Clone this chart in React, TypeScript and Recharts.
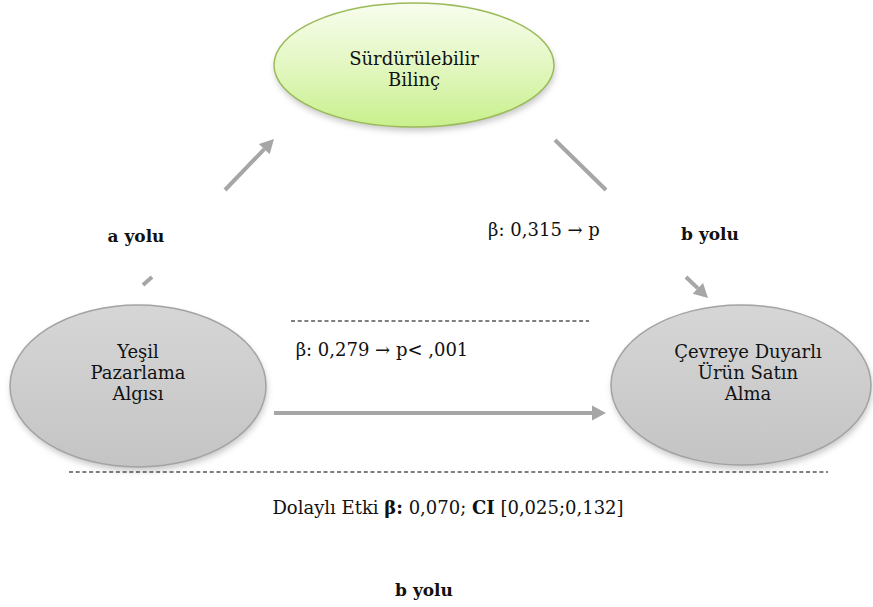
import React from 'react';
import { ComposedChart, XAxis, YAxis, Scatter, ReferenceLine } from 'recharts';

// ---- diagram data (diagram coordinate space: 0..873 x 0..607, y downward) ----
const nodeIds = ['sb', 'ypa', 'cdusa'];
const nodeLines = [
  ['Sürdürülebilir', 'Bilinç'],
  ['Yeşil', 'Pazarlama', 'Algısı'],
  ['Çevreye Duyarlı', 'Ürün Satın', 'Alma'],
];
const nodeX = [414, 138, 741];
const nodeY = [65, 386, 385];
const nodeRx = [140, 128, 130];
const nodeRy = [62, 81, 80];
const nodeTextX = [414, 138, 748];
const nodeTextY = [58, 351, 351];
const nodeKind = ['green', 'gray', 'gray'];

const arrowFrom = [[225, 190], [143, 285], [555, 140], [686, 277], [274, 413]];
const arrowTo = [[274, 139], [152, 277], [606, 190], [708, 298], [606, 413]];
const arrowHead = [true, false, false, true, true];

const dashFrom = [[291, 321], [69, 472]];
const dashTo = [[589, 321], [828, 472]];

const labelTexts = ['a yolu', 'β: 0,315 → p', 'b yolu', 'β: 0,279 → p< ,001', 'b yolu'];
const labelX = [136, 544, 710, 382, 424];
const labelY = [236, 229, 234, 349, 590];
const labelBold = [true, false, true, false, true];

const indirectParts = [
  { t: 'Dolaylı Etki ', b: false },
  { t: 'β:', b: true },
  { t: ' 0,070; ', b: false },
  { t: 'CI', b: true },
  { t: ' [0,025;0,132]', b: false },
];
const indirectX = [448];
const indirectY = [507];

const HEAD_LEN = 14;
const HEAD_HALF = 7.5;
const FONT = 'DejaVu Serif';
const FS = 18;
const LINE_H = 21;

// ---- derived tables ----
const nodeData = nodeIds.map((id, i) => ({
  id, x: nodeX[i], y: nodeY[i], rx: nodeRx[i], ry: nodeRy[i],
  lines: nodeLines[i], tx: nodeTextX[i], ty: nodeTextY[i], kind: nodeKind[i],
}));

const shafts = arrowFrom.map((f, i) => {
  const t = arrowTo[i];
  const dx = t[0] - f[0];
  const dy = t[1] - f[1];
  const len = Math.sqrt(dx * dx + dy * dy);
  const cut = arrowHead[i] ? HEAD_LEN : 0;
  return {
    x1: f[0], y1: f[1],
    x2: t[0] - (dx / len) * cut, y2: t[1] - (dy / len) * cut,
  };
});

const headData = arrowTo
  .map((t, i) => ({
    x: t[0], y: t[1], head: arrowHead[i],
    angle: (Math.atan2(t[1] - arrowFrom[i][1], t[0] - arrowFrom[i][0]) * 180) / Math.PI,
  }))
  .filter((d) => d.head);

const labelData = labelTexts.map((text, i) => ({ x: labelX[i], y: labelY[i], text, bold: labelBold[i] }));
const indirectData = [{ x: indirectX[0], y: indirectY[0] }];

const textStyle = { fontFamily: FONT };

const NodeShape = (props: any) => {
  const { cx, cy, payload } = props;
  if (cx == null || cy == null) return null;
  const gid = `grad-${payload.id}`;
  const fid = `shadow-${payload.id}`;
  const green = payload.kind === 'green';
  const dx = payload.tx - payload.x;
  const dy = payload.ty - payload.y;
  return (
    <g>
      <defs>
        <linearGradient id={gid} x1="0" y1="0" x2="0" y2="1">
          {green ? (
            <>
              <stop offset="0%" stopColor="#f8fdee" />
              <stop offset="50%" stopColor="#e3f7c2" />
              <stop offset="100%" stopColor="#c8f08c" />
            </>
          ) : (
            <>
              <stop offset="0%" stopColor="#d6d6d6" />
              <stop offset="100%" stopColor="#c4c4c4" />
            </>
          )}
        </linearGradient>
        <filter id={fid} x="-20%" y="-20%" width="140%" height="150%">
          <feGaussianBlur stdDeviation="3" />
        </filter>
      </defs>
      <ellipse cx={cx + 1} cy={cy + 4} rx={payload.rx} ry={payload.ry} fill="rgba(0,0,0,0.22)" filter={`url(#${fid})`} />
      <ellipse cx={cx} cy={cy} rx={payload.rx} ry={payload.ry} fill={`url(#${gid})`} stroke={green ? '#9bbb59' : '#a3a3a3'} strokeWidth={1.5} />
      {payload.lines.map((ln: string, k: number) => (
        <text key={k} x={cx + dx} y={cy + dy + k * LINE_H} textAnchor="middle" dominantBaseline="central"
          style={textStyle} fontSize={FS} fill="#111">{ln}</text>
      ))}
    </g>
  );
};

const HeadShape = (props: any) => {
  const { cx, cy, payload } = props;
  if (cx == null || cy == null) return null;
  return (
    <polygon
      points={`0,0 ${-HEAD_LEN},${-HEAD_HALF} ${-HEAD_LEN},${HEAD_HALF}`}
      transform={`translate(${cx},${cy}) rotate(${payload.angle})`}
      fill="#a6a6a6"
    />
  );
};

const LabelShape = (props: any) => {
  const { cx, cy, payload } = props;
  if (cx == null || cy == null) return null;
  return (
    <text x={cx} y={cy} textAnchor="middle" dominantBaseline="central" style={textStyle}
      fontSize={payload.bold ? 17 : FS} fontWeight={payload.bold ? 'bold' : 'normal'} fill="#111">
      {payload.text}
    </text>
  );
};

const IndirectShape = (props: any) => {
  const { cx, cy } = props;
  if (cx == null || cy == null) return null;
  return (
    <text x={cx} y={cy} textAnchor="middle" dominantBaseline="central" style={textStyle} fontSize={FS} fill="#111">
      {indirectParts.map((p, i) => (
        <tspan key={i} fontWeight={p.b ? 'bold' : 'normal'}>{p.t}</tspan>
      ))}
    </text>
  );
};

export default function App() {
  return (
    <div style={{ position: 'absolute', left: 0, top: 0, width: 873, height: 607, background: '#fff' }}>
      <ComposedChart width={873} height={607} margin={{ top: 0, right: 0, bottom: 0, left: 0 }}>
        <XAxis type="number" dataKey="x" domain={[0, 873]} hide allowDataOverflow />
        <YAxis type="number" dataKey="y" domain={[0, 607]} reversed hide width={0} allowDataOverflow />
        {dashFrom.map((f, i) => (
          <ReferenceLine key={`d${i}`} segment={[{ x: f[0], y: f[1] }, { x: dashTo[i][0], y: dashTo[i][1] }]}
            stroke="#000" strokeWidth={1.2} strokeDasharray="4 2.7" ifOverflow="visible" />
        ))}
        {shafts.map((s, i) => (
          <ReferenceLine key={`s${i}`} segment={[{ x: s.x1, y: s.y1 }, { x: s.x2, y: s.y2 }]}
            stroke="#a6a6a6" strokeWidth={4} ifOverflow="visible" />
        ))}
        <Scatter data={nodeData} dataKey="y" shape={NodeShape} isAnimationActive={false} />
        <Scatter data={headData} dataKey="y" shape={HeadShape} isAnimationActive={false} />
        <Scatter data={labelData} dataKey="y" shape={LabelShape} isAnimationActive={false} />
        <Scatter data={indirectData} dataKey="y" shape={IndirectShape} isAnimationActive={false} />
      </ComposedChart>
    </div>
  );
}
